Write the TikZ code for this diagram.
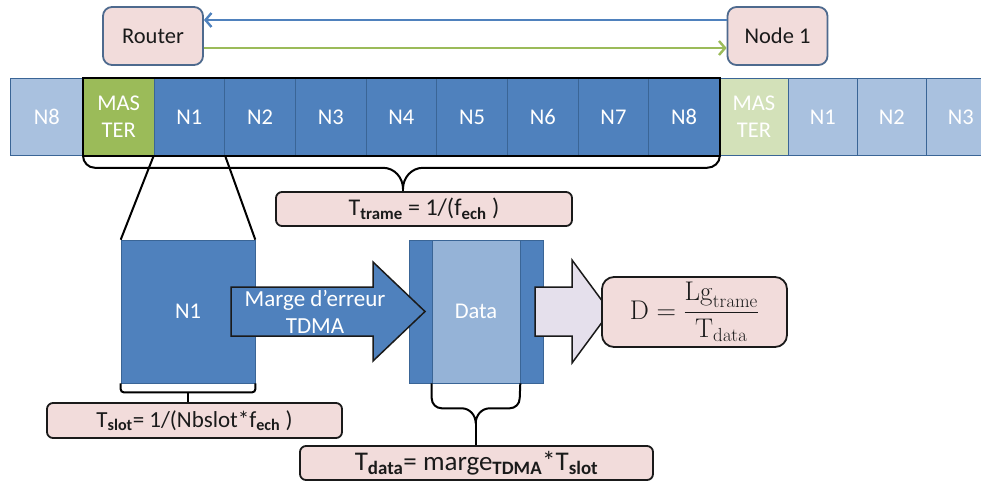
\RequirePackage{fix-cm}
\documentclass[tikz,border=0pt]{standalone}
\usepackage{amsmath}
\usepackage[no-math]{fontspec}
\setmainfont{Carlito}
\usepackage{tikz}
\usetikzlibrary{arrows.meta,positioning}
\definecolor{cellblue}{HTML}{4F81BD}
\definecolor{celledge}{HTML}{3A6596}
\definecolor{cellpale}{HTML}{A9C1DF}
\definecolor{mgreen}{HTML}{9BBB59}
\definecolor{mpale}{HTML}{D3E1B9}
\definecolor{datapale}{HTML}{95B3D7}
\definecolor{pinkbg}{HTML}{F2DCDB}
\definecolor{lavbg}{HTML}{E5E0EC}
\definecolor{boxedge}{HTML}{4E6A8E}
\definecolor{ink}{HTML}{1A1A1A}
\tikzset{
  cell/.style={draw=celledge,line width=0.8pt,fill=cellblue,text=white,anchor=north west,
    minimum width=70.67pt,minimum height=77pt,inner sep=0pt,align=center,
    font=\fontsize{22.5}{26.5}\selectfont},
  pcell/.style={cell,fill=cellpale},
  mcell/.style={cell,fill=mgreen},
  pmcell/.style={cell,fill=mpale},
  rbox/.style={draw=boxedge,fill=pinkbg,rounded corners=9pt,line width=1.8pt,
    minimum width=100pt,minimum height=58pt,font=\fontsize{22.5}{26}\selectfont,text=ink},
  tbox/.style={draw=ink,fill=pinkbg,rounded corners=6pt,line width=1.8pt,inner sep=0pt,
    font=\fontsize{24}{28}\selectfont,text=ink},
  blk/.style={fill=cellblue,draw=celledge,line width=0.6pt,minimum width=134pt,minimum height=143pt,
    inner sep=0pt,text=white,font=\fontsize{22.5}{26}\selectfont},
  barrow/.style={draw=ink,line width=1.5pt,fill=cellblue,line join=miter},
  larrow/.style={barrow,fill=lavbg},
  atxt/.style={text=white,align=center,inner sep=0pt,font=\fontsize{23}{26.5}\selectfont},
  frm/.style={draw=black,line width=2.2pt},
  brc/.style={draw=black,line width=2pt},
  bline/.style={-{Straight Barb[length=6pt,width=14pt]},line width=2.4pt,color=cellblue},
  gline/.style={-{Straight Barb[length=6pt,width=14pt]},line width=2.4pt,color=mgreen}
}
\begin{document}
\begin{tikzpicture}[x=1pt,y=1pt]
  \useasboundingbox (0,0) rectangle (981,-482);
  \clip (0,0) rectangle (981,-482);
  \node[rbox] (rtr) at (153,-36) {Router};
  \node[rbox] (nd1) at (777.5,-36) {Node 1};
  \draw[bline] ([yshift=16pt]nd1.west) -- ([yshift=16pt]rtr.east);
  \draw[gline] ([yshift=-12pt]rtr.east) -- ([yshift=-12pt]nd1.west);
  \node[pcell,minimum width=73pt] (c0) at (10,-78) {N8};
  \node[mcell] (mst) at (83,-78) {MAS\\TER};
  \foreach \i in {1,...,8}
    \node[cell] (c\i) at ({83+70.67*\i},-78) {N\i};
  \node[pmcell,minimum width=69pt] (mst2) at (719,-78) {MAS\\TER};
  \foreach \i in {1,2,3}
    \node[pcell,minimum width=69pt] (d\i) at ({719+69*\i},-78) {N\i};
  \draw[frm] (mst.north west) rectangle (c8.south east);
  \node[tbox,minimum width=296pt,minimum height=34pt] (ttrame) at (424,-209)
    {T\textsubscript{\textbf{trame}} = 1/(f\textsubscript{\textbf{ech}} )};
  \draw[brc] (mst.south west) to[out=-90,in=180] ++(12,-12) -- ++(288,0)
    to[out=0,in=90] ++(20,-21) coordinate (ttip) to[out=90,in=180] ++(20,21) -- ++(284,0)
    to[out=0,in=-90] (c8.south east);
  \draw[brc] (ttip) -- (ttip |- ttrame.north);
  \node[blk] (bn1) at (188,-311.5) {N1};
  \draw[brc] (c1.south west) -- (bn1.north west);
  \draw[brc] (c1.south east) -- (bn1.north east);
  \node[tbox,minimum width=295pt,minimum height=35pt,font=\fontsize{23}{27}\selectfont] (tslot) at (194.5,-420.5)
    {T\textsubscript{\textbf{slot}}= 1/(Nbslot*f\textsubscript{\textbf{ech}} )};
  \draw[brc,rounded corners=3pt] (bn1.south west) -- ++(0,-9) -| (bn1.south east);
  \draw[brc] ([yshift=-9pt]bn1.south) coordinate (stip) -- (stip |- tslot.north);
  \node[blk] (dout) at (476,-311.5) {};
  \node[blk,fill=datapale,minimum width=88pt] (din) at (dout) {Data};
  \draw[barrow] (231,-287) -- (373,-287) -- (373,-262) -- (425,-311.5) -- (373,-361)
    -- (373,-336) -- (231,-336) -- cycle;
  \node[atxt] (marge) at (315,-312) {Marge d’erreur\\TDMA};
  \draw[larrow] (535,-287) -- (572,-287) -- (572,-260) -- (610,-311.5) -- (572,-363)
    -- (572,-336) -- (535,-336) -- cycle;
  \node[tbox,minimum width=185pt,minimum height=70pt,rounded corners=12pt,font=\fontsize{27}{30}\selectfont] (dbox) at (694.5,-312)
    {$\mathrm{D}=\dfrac{\mathrm{Lg}_{\mathrm{trame}}}{\mathrm{T}_{\mathrm{data}}}$};
  \node[tbox,minimum width=353pt,minimum height=34pt,font=\fontsize{27}{30}\selectfont] (tdata) at (476.5,-463)
    {T\textsubscript{\textbf{data}}= marge\textsubscript{\textbf{TDMA}}*T\textsubscript{\textbf{slot}}};
  \draw[brc] (din.south west) -- ++(0,-15) to[out=-90,in=180] ++(10,-10) -- ++(20,0)
    to[out=0,in=90] ++(14,-15) coordinate (dtip) to[out=90,in=180] ++(14,15) -- ++(20,0)
    to[out=0,in=-90] ++(10,10) -- (din.south east);
  \draw[brc] (dtip) -- (dtip |- tdata.north);
\end{tikzpicture}
\end{document}
